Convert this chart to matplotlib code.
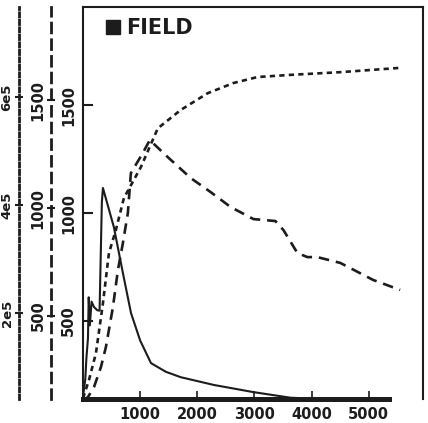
import matplotlib
matplotlib.use("Agg")
import matplotlib.pyplot as plt
from matplotlib.lines import Line2D

ink = "#1c1c1c"

# solid curve (inner left axis)
solid_x = [0, 40, 60, 87, 100, 120, 150, 192, 250, 290, 330, 349, 540, 700, 840, 1000, 1190, 1450, 1710, 2290, 2980, 3630, 4500, 5500]
solid_y = [150, 230, 330, 420, 610, 480, 590, 565, 550, 548, 1050, 1116, 935, 720, 537, 410, 305, 265, 240, 204, 171, 145, 135, 130]

# long dashed curve (middle axis)
dashed_x = [0, 87, 192, 314, 401, 524, 611, 698, 785, 838, 1047, 1169, 1483, 1885, 2234, 2583, 2984, 3368, 3508, 3752, 3927, 4101, 4503, 5079, 5550]
dashed_y = [110, 125, 171, 264, 357, 542, 713, 838, 977, 1162, 1255, 1315, 1236, 1139, 1074, 1005, 949, 940, 898, 792, 773, 773, 746, 667, 621]

# short dashed curve (outer axis)
dotted_x = [0, 105, 227, 349, 454, 576, 716, 1012, 1309, 1710, 2181, 2635, 3054, 3630, 4503, 5550]
dotted_y = [42000, 76000, 126000, 218000, 311000, 354000, 413000, 470000, 542000, 576000, 607000, 626000, 637000, 641000, 646000, 654000]

x_ticks = [1000, 2000, 3000, 4000, 5000]
solid_ticks = [500, 1000, 1500]
dashed_ticks = [500, 1000, 1500]
dotted_ticks = [200000, 400000, 600000]
dotted_labels = ["2e5", "4e5", "6e5"]

fig = plt.figure(figsize=(4.28, 4.23), dpi=100)
ax = fig.add_axes([83 / 428, 24 / 423, 340 / 428, 392 / 423])
ax2 = ax.twinx()
ax3 = ax.twinx()

ax2.plot(dashed_x, dashed_y, color=ink, lw=1.9, linestyle=(0, (4, 2.6)))
ax3.plot(dotted_x, dotted_y, color=ink, lw=1.9, linestyle=(0, (2, 1.6)))
ax.plot(solid_x, solid_y, color=ink, lw=1.5)

ax.set_xlim(0, 5950)
ax.set_ylim(139, 1954)
ax2.set_ylim(116, 1931)
ax3.set_ylim(40700, 766700)

for s in ["top", "right", "left"]:
    ax.spines[s].set_linewidth(1.5)
    ax.spines[s].set_color(ink)
ax.spines["bottom"].set_linewidth(3.6)
ax.spines["bottom"].set_color(ink)
ax.spines["bottom"].set_bounds(0, 5350)

ax.set_xticks(x_ticks)
ax.set_xticklabels([str(v) for v in x_ticks])
ax.tick_params(axis="x", direction="in", length=6, width=1.2, color=ink, pad=6,
               labelsize=10.5, labelcolor=ink)
ax.set_yticks(solid_ticks)
ax.tick_params(axis="y", direction="in", length=7, width=1.5, color=ink, pad=5,
               labelsize=10.5, labelcolor=ink, labelrotation=90)

# extra left axes
for a, out, ls in [(ax2, 23, (0, (3.5, 2.5))), (ax3, 46, (0, (1.5, 1.2)))]:
    a.yaxis.set_ticks_position("left")
    a.yaxis.set_label_position("left")
    a.spines["left"].set_position(("outward", out))
    a.spines["left"].set_visible(True)
    a.spines["left"].set_linestyle(ls)
    a.spines["left"].set_linewidth(2)
    a.spines["left"].set_color(ink)
    for s in ["top", "right", "bottom"]:
        a.spines[s].set_visible(False)
    a.tick_params(axis="y", direction="inout", length=6, width=1.5, color=ink, pad=1,
                  labelrotation=90, labelcolor=ink)

ax2.set_yticks(dashed_ticks)
ax2.tick_params(axis="y", labelsize=10.5)
ax3.set_yticks(dotted_ticks)
ax3.set_yticklabels(dotted_labels)
ax3.tick_params(axis="y", labelsize=9.5)

for a in [ax, ax2, ax3]:
    for lab in a.get_yticklabels():
        lab.set_va("center")
        lab.set_fontweight("bold")
for lab in ax.get_xticklabels():
    lab.set_fontweight("bold")

handle = Line2D([], [], marker="s", color=ink, linestyle="none", markersize=9.5)
leg = ax3.legend([handle], ["FIELD"], loc="upper left", bbox_to_anchor=(0.03, 1.0),
                 frameon=False, handlelength=0.8, handletextpad=0.25, borderaxespad=0.15,
                 prop={"size": 15, "weight": "bold"})
for t in leg.get_texts():
    t.set_color(ink)

fig.savefig("out.png", dpi=100, facecolor="white")
